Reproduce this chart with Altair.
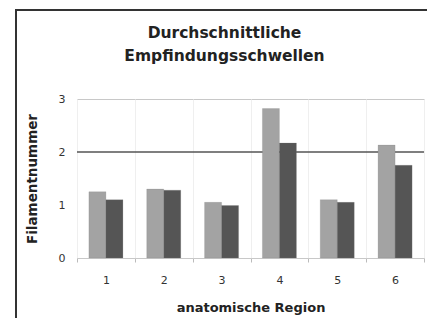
import altair as alt
import pandas as pd

regions = ["1", "2", "3", "4", "5", "6"]
series_a = [1.25, 1.30, 1.05, 2.82, 1.10, 2.13]
series_b = [1.10, 1.28, 0.99, 2.17, 1.05, 1.75]
series_names = ["A", "B"]
y_ticks = [0, 1, 2, 3]
threshold = [2]

rows = []
for r, a, b in zip(regions, series_a, series_b):
    rows.append({"Region": r, "Serie": series_names[0], "Wert": a})
    rows.append({"Region": r, "Serie": series_names[1], "Wert": b})
df = pd.DataFrame(rows)

FONT = "DejaVu Sans"
W, H = 347, 159

x_enc = alt.X(
    "Region:N",
    sort=regions,
    scale=alt.Scale(paddingInner=0, paddingOuter=0),
    axis=alt.Axis(
        title="anatomische Region",
        titleFont=FONT, titleFontSize=13, titleFontWeight="bold", titleColor="#222",
        titlePadding=16,
        labelFont=FONT, labelFontSize=11, labelColor="#333", labelAngle=0,
        labelPadding=12,
        tickBand="extent", ticks=True, tickSize=4, tickColor="#bbb",
        domain=False, grid=True, gridColor="#efefef",
    ),
)

bars = alt.Chart(df).mark_bar(stroke="#777", strokeWidth=0.5, strokeOpacity=0.4).encode(
    x=x_enc,
    xOffset=alt.XOffset("Serie:N", scale=alt.Scale(paddingInner=0, paddingOuter=0.7)),
    y=alt.Y(
        "Wert:Q",
        scale=alt.Scale(domain=[0, 3], nice=False),
        axis=alt.Axis(
            values=y_ticks, format="d",
            title="Filamentnummer",
            titleFont=FONT, titleFontSize=13.5, titleFontWeight="bold", titleColor="#222",
            titlePadding=19,
            labelFont=FONT, labelFontSize=11, labelColor="#333",
            labelPadding=12, ticks=False, domain=False, grid=False,
        ),
    ),
    color=alt.Color(
        "Serie:N",
        scale=alt.Scale(domain=series_names, range=["#a3a3a3", "#555555"]),
        legend=None,
    ),
)

rule = alt.Chart(pd.DataFrame({"y": threshold})).mark_rule(
    color="#555", strokeWidth=1.5
).encode(y=alt.Y("y:Q"))

frame = alt.Chart(pd.DataFrame({"k": [1]})).mark_rect(
    fill=None, stroke="#333", strokeWidth=2, clip=False
).encode(
    x=alt.value(-61), x2=alt.value(355), y=alt.value(-89), y2=alt.value(320)
)

chart = alt.layer(rule, bars, frame).properties(
    width=W,
    height=H,
    autosize=alt.AutoSizeParams(type="none"),
    padding={"left": 69, "top": 91, "right": 3, "bottom": 60},
    title=alt.TitleParams(
        text=["Durchschnittliche", "Empfindungsschwellen"],
        font=FONT, fontSize=15.5, fontWeight="bold", color="#222",
        anchor="middle", dx=-26, offset=-70, lineHeight=23, baseline="bottom",
    ),
).configure_view(stroke="#c8c8c8", strokeWidth=1)

chart.save("out.html", embed_options={"renderer": "svg", "actions": False})
